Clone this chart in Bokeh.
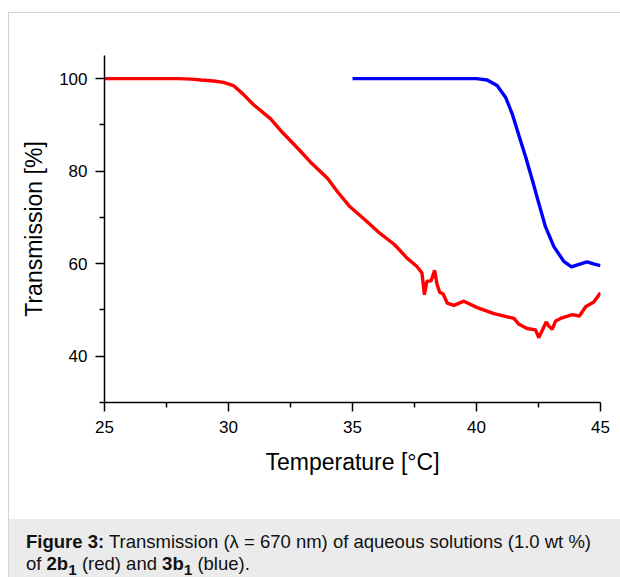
from bokeh.plotting import figure
from bokeh.models import Range1d, FixedTicker, Div
from bokeh.layouts import column
from bokeh.embed import file_html
from bokeh.resources import INLINE

# ---- data ----
red_temp = [25.0, 26.0, 27.0, 28.0, 28.5, 28.9, 29.4, 29.8, 30.2, 30.6, 31.0, 31.7,
            32.1, 32.8, 33.3, 34.0, 34.4, 34.9, 35.5, 36.1, 36.7, 37.2, 37.6, 37.8,
            37.9, 38.0, 38.17, 38.31, 38.41, 38.52, 38.65, 38.82, 39.09, 39.49, 40.03,
            40.7, 41.51, 41.71, 42.04, 42.38, 42.51, 42.81, 42.92, 43.05, 43.19, 43.45,
            43.86, 44.15, 44.4, 44.73, 45.0]
red_trans = [100.0, 100.0, 100.0, 100.0, 99.9, 99.7, 99.5, 99.2, 98.5, 96.6, 94.4, 91.3,
             88.8, 84.9, 82.0, 78.4, 75.5, 72.3, 69.5, 66.6, 64.1, 61.2, 59.4, 58.0,
             53.3, 56.2, 56.3, 58.6, 55.5, 53.8, 53.5, 51.5, 51.0, 51.9, 50.5,
             49.2, 48.2, 46.9, 46.0, 45.7, 44.0, 47.4, 46.5, 45.8, 47.6, 48.3,
             49.0, 48.7, 50.7, 51.7, 53.7]

blue_temp = [35.0, 36.0, 37.0, 38.0, 39.0, 40.0, 40.43, 40.83, 41.17, 41.44, 41.71,
             41.98, 42.25, 42.51, 42.78, 43.12, 43.52, 43.83, 44.1, 44.46, 44.75, 45.0]
blue_trans = [100.0, 100.0, 100.0, 100.0, 100.0, 100.0, 99.7, 98.5, 96.0, 92.4, 87.7,
              83.1, 78.1, 73.1, 68.0, 63.7, 60.5, 59.3, 59.8, 60.4, 59.9, 59.6]

x_major = [25, 30, 35, 40, 45]
x_minor = [27.5, 32.5, 37.5, 42.5]
y_major = [40, 60, 80, 100]
y_minor = [30, 50, 70, 90]

FONT = "Liberation Sans"

p = figure(width=612, height=519, output_backend="svg", toolbar_location=None,
           x_range=Range1d(25, 45), y_range=Range1d(30, 105),
           min_border_left=104, min_border_right=12, min_border_top=55, min_border_bottom=117)
p.outline_line_color = None
p.grid.visible = False
p.background_fill_color = "white"
p.border_fill_color = "white"

p.line(red_temp, red_trans, line_color="#ff0000", line_width=3.4)
p.line(blue_temp, blue_trans, line_color="#0000ff", line_width=3.4)

for ax in (p.xaxis[0], p.yaxis[0]):
    ax.axis_line_color = "black"
    ax.axis_line_width = 1.5
    ax.major_tick_line_color = "black"
    ax.minor_tick_line_color = "black"
    ax.major_tick_line_width = 1.5
    ax.minor_tick_line_width = 1.5
    ax.major_tick_in = 0
    ax.major_tick_out = 9
    ax.minor_tick_in = 0
    ax.minor_tick_out = 5
    ax.major_label_text_font = FONT
    ax.major_label_text_font_size = "17px"
    ax.major_label_text_color = "black"
    ax.axis_label_text_font = FONT
    ax.axis_label_text_font_size = "23px"
    ax.axis_label_text_font_style = "normal"
    ax.axis_label_text_color = "black"

p.xaxis.ticker = FixedTicker(ticks=x_major, minor_ticks=x_minor)
p.yaxis.ticker = FixedTicker(ticks=y_major, minor_ticks=y_minor)
p.xaxis.axis_label = "Temperature [°C]"
p.yaxis.axis_label = "Transmission [%]"
p.xaxis.major_label_standoff = 9
p.yaxis.major_label_standoff = 8
p.xaxis.axis_label_standoff = 13
p.yaxis.axis_label_standoff = 9

caption_html = (
    '<div style="position:relative; margin-left:8px; width:612px; height:58px; '
    'background:#ebebeb; box-sizing:border-box; padding:12px 0 0 18px; '
    "font-family:'Liberation Sans', Arial, sans-serif; font-size:18.5px; line-height:22px; color:#111;\">"
    '<div style="position:absolute; left:0; top:-507px; width:700px; height:700px; '
    'border-left:1px solid #d4d4d4; border-top:1px solid #d4d4d4; pointer-events:none;"></div>'
    '<b>Figure 3:</b> Transmission (λ = 670 nm) of aqueous solutions (1.0 wt %)<br>'
    'of <b>2b<sub>1</sub></b> (red) and <b>3b<sub>1</sub></b> (blue).'
    '</div>'
)
caption = Div(text=caption_html, width=620, height=58, margin=0)

layout = column(p, caption, spacing=0)

open("out.html", "w").write(file_html(layout, INLINE))
